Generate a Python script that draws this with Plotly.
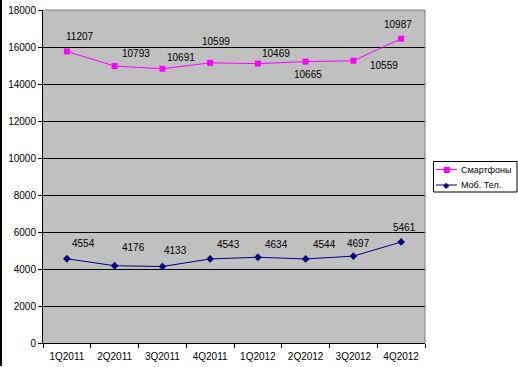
import plotly.graph_objects as go

categories = ["1Q2011", "2Q2011", "3Q2011", "4Q2011", "1Q2012", "2Q2012", "3Q2012", "4Q2012"]
mobile = [4554, 4176, 4133, 4543, 4634, 4544, 4697, 5461]
smart = [11207, 10793, 10691, 10599, 10469, 10665, 10559, 10987]
y_ticks = [0, 2000, 4000, 6000, 8000, 10000, 12000, 14000, 16000, 18000]
y_tick_text = ["0", "2000", "4000", "6000", "8000", "10000", "12000", "14000", "16000", "18000"]
series_names = ["Смартфоны", "Моб. Тел."]

# label offsets in pixels (dx, dy) — styling only
smart_off = [(13, 15), (21, 13), (19, 11), (6, 21), (18, 10), (2, -13), (31, -5), (-3, 14)]
mob_off = [(17, 15), (19, 18), (13, 16), (18, 14), (19, 13), (19, 14), (5, 13), (3, 14)]

FONT = "Liberation Sans, Arial, sans-serif"
SMART_C = "#FF00FF"
MOB_C = "#000080"

L, R, T, B, W, H = 43, 93, 10, 24, 518, 367
PW, PH = W - L - R, H - T - B


def px(x):
    return (x - L) / PW


def py(y):
    return (H - B - y) / PH


fig = go.Figure()
fig.add_trace(go.Scatter(
    x=categories, y=mobile, name=series_names[1], stackgroup="s", fill="none",
    mode="lines+markers", line=dict(color=MOB_C, width=1),
    marker=dict(symbol="diamond", size=6, color=MOB_C)))
fig.add_trace(go.Scatter(
    x=categories, y=smart, name=series_names[0], stackgroup="s", fill="none",
    mode="lines+markers", line=dict(color=SMART_C, width=1),
    marker=dict(symbol="square", size=6, color=SMART_C)))

stacked = [m + s for m, s in zip(mobile, smart)]
for i, c in enumerate(categories):
    fig.add_annotation(x=c, y=mobile[i], text=str(mobile[i]), showarrow=False,
                       xshift=mob_off[i][0], yshift=mob_off[i][1],
                       font=dict(family=FONT, size=10, color="black"))
    fig.add_annotation(x=c, y=stacked[i], text=str(smart[i]), showarrow=False,
                       xshift=smart_off[i][0], yshift=smart_off[i][1],
                       font=dict(family=FONT, size=10, color="black"))

fig.update_layout(
    width=W, height=H,
    margin=dict(l=L, r=R, t=T, b=B, autoexpand=False),
    paper_bgcolor="white", plot_bgcolor="#C0C0C0",
    font=dict(family=FONT, size=10, color="black"),
    showlegend=False,
    hovermode=False,
)
fig.update_xaxes(type="category", tickson="boundaries", ticks="outside", ticklen=4,
                 tickcolor="black", showline=True, linecolor="black", linewidth=1,
                 showgrid=False, range=[-0.5, 7.5], tickangle=0, automargin=False,
                 ticklabelstandoff=4, tickfont=dict(size=10))
fig.update_yaxes(range=[0, 18000], tickvals=y_ticks, ticktext=y_tick_text,
                 ticks="outside", ticklen=4, automargin=False,
                 tickcolor="black", showline=True, linecolor="black", linewidth=1,
                 showgrid=True, gridcolor="black", gridwidth=1, zeroline=False,
                 tickfont=dict(size=10))

# plot border top/right (gray)
fig.add_shape(type="line", xref="paper", yref="paper", x0=0, x1=1, y0=1, y1=1,
              line=dict(color="#808080", width=1))
fig.add_shape(type="line", xref="paper", yref="paper", x0=1, x1=1, y0=0, y1=1,
              line=dict(color="#808080", width=1))
# chart-area left edge
fig.add_shape(type="line", xref="paper", yref="paper", x0=px(1), x1=px(1),
              y0=py(366), y1=py(0), line=dict(color="black", width=2))

# legend box (drawn manually to match compact Excel legend)
fig.add_shape(type="rect", xref="paper", yref="paper", x0=px(433.5), x1=px(517),
              y0=py(192), y1=py(161.5), line=dict(color="black", width=1),
              fillcolor="white")
legend_rows = [(169.5, SMART_C, "■", 8), (185, MOB_C, "◆", 8)]
for (yy, col, glyph, gs), name in zip(legend_rows, series_names):
    fig.add_shape(type="line", xref="paper", yref="paper", x0=px(436), x1=px(457),
                  y0=py(yy), y1=py(yy), line=dict(color=col, width=1))
    fig.add_annotation(xref="paper", yref="paper", x=px(447), y=py(yy), text=glyph,
                       showarrow=False, font=dict(family="DejaVu Sans", size=gs, color=col),
                       xanchor="center", yanchor="middle")
    fig.add_annotation(xref="paper", yref="paper", x=px(459), y=py(yy), text=name,
                       showarrow=False, font=dict(family=FONT, size=9, color="black"),
                       xanchor="left", yanchor="middle")

fig.write_html("out.html", config={"displayModeBar": False},
               post_script="document.body.style.margin='0';document.body.style.overflow='hidden';")
